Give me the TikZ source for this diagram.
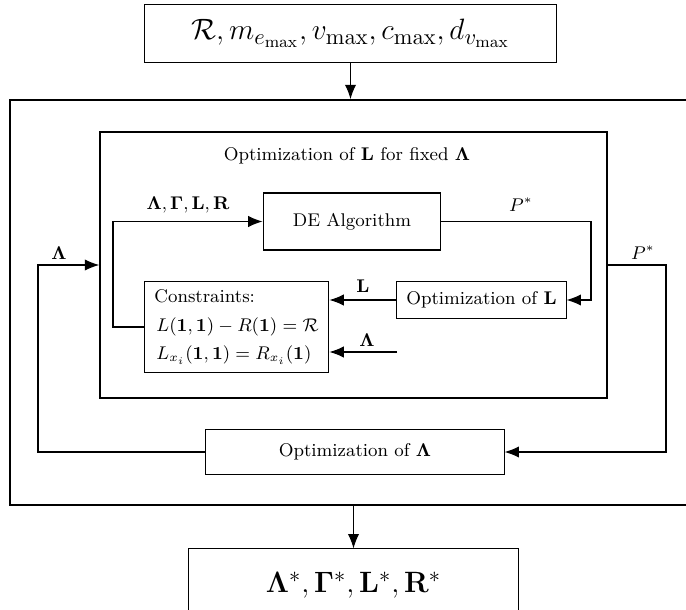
\documentclass[tikz,border=0pt]{standalone}
\usepackage{amsmath,amssymb}
\usetikzlibrary{arrows.meta}

\tikzset{every path/.style={line width=0.5pt}}
\tikzset{box/.style={draw, inner sep=0pt, align=center},
  frame/.style={box, line width=0.75pt},
  bigtext/.style={font=\fontsize{15.2}{18}\selectfont},
  arr/.style={-{Latex[length=7pt,width=5.5pt]}}}

\begin{document}
\begin{tikzpicture}[x=0.0172cm, y=-0.0172cm, font=\small]
\useasboundingbox (0,0) rectangle (686,610);
% boxes
\node[box, bigtext, minimum width=7.10cm, minimum height=1.01cm] (inp) at (350.5,33.5) {$\mathcal{R}, m_{e_{\max}}, v_{\max}, c_{\max}, d_{v_{\max}}$};
\node[frame, minimum width=11.87cm, minimum height=6.97cm] (outer) at (355,302.5) {};
\node[frame, minimum width=8.72cm, minimum height=4.58cm] (inner) at (353.5,265) {};
\node (title) at (347,156) {Optimization of $\mathbf{L}$ for fixed $\mathbf{\Lambda}$};
\node[box, minimum width=3.06cm, minimum height=0.98cm] (de) at (352,221.5) {DE Algorithm};
\node[box, minimum width=2.91cm, minimum height=0.62cm] (optL) at (481.5,300) {Optimization of $\mathbf{L}$};
\node[box, minimum width=3.18cm, minimum height=1.55cm, align=left] (cons) at (236.5,327)
  {Constraints:\\[3pt] \hspace{1pt}$L(\mathbf{1},\mathbf{1})-R(\mathbf{1})=\mathcal{R}$\\[3pt] \hspace{1pt}$L_{x_i}(\mathbf{1},\mathbf{1})=R_{x_i}(\mathbf{1})$};
\node[box, minimum width=5.13cm, minimum height=0.76cm] (optLam) at (355,452) {Optimization of $\mathbf{\Lambda}$};
\node[box, bigtext, minimum width=5.66cm, minimum height=1.24cm] (out) at (353.5,585) {$\mathbf{\Lambda}^*, \mathbf{\Gamma}^*, \mathbf{L}^*, \mathbf{R}^*$};

% turning points
\coordinate (dr) at (591,260);
\coordinate (cl) at (113,270);
\coordinate (lamin) at (397,352);
\coordinate (ll) at (38,350);
\coordinate (rr) at (666,350);

% connectors
\draw[arr] (inp.south) -- (inp.south |- outer.north);
\draw[arr] (outer.south -| out.north) -- (out.north);
\draw[arr] (de.east) -| (dr) |- (optL.east);
\draw[arr] (optL.west) -- (optL.west -| cons.east);
\draw[arr] (lamin) -- (lamin -| cons.east);
\draw[arr] (cons.west) -| (cl) |- (de.west);
\draw[arr] (optLam.west) -| (ll) |- (inner.west);
\draw[arr] (inner.east) -| (rr) |- (optLam.east);

% labels
\node (lP) at (521,205) {$P^*$};
\node (lL) at (363,286) {$\mathbf{L}$};
\node (lLam) at (367,340) {$\mathbf{\Lambda}$};
\node (lvars) at (188,205) {$\mathbf{\Lambda},\mathbf{\Gamma},\mathbf{L},\mathbf{R}$};
\node (lLamL) at (59,253) {$\mathbf{\Lambda}$};
\node (lPR) at (643,253) {$P^*$};
\end{tikzpicture}
\end{document}
